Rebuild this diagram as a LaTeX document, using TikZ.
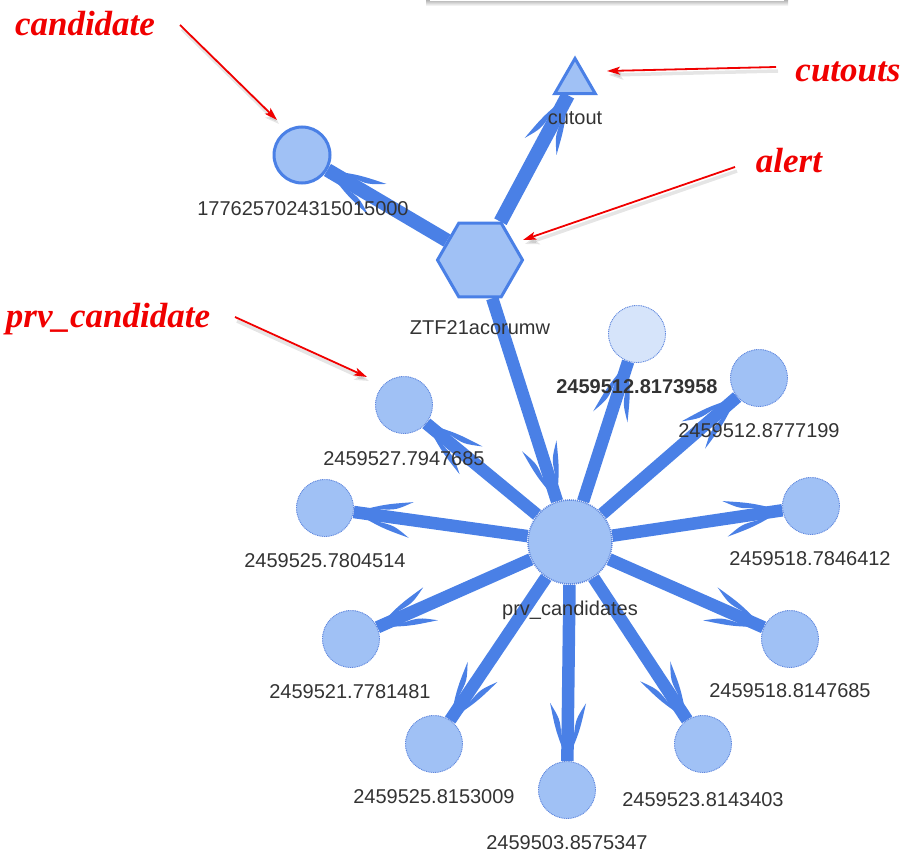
\documentclass[tikz,border=0pt]{standalone}
\usepackage{fontspec}
\setmainfont{Liberation Sans}
\newfontfamily\annfont{Liberation Serif}
\usetikzlibrary{shapes.geometric,arrows.meta,decorations.markings}
\definecolor{edgeblue}{RGB}{74,128,230}
\definecolor{nodefill}{RGB}{160,193,245}
\definecolor{palefill}{RGB}{214,228,250}
\definecolor{dotblue}{RGB}{96,136,222}
\definecolor{txtgray}{RGB}{51,51,51}
\definecolor{annred}{RGB}{240,0,0}
\pgfdeclarelayer{edgelayer}
\pgfsetlayers{edgelayer,main}
\tikzset{
  starnode/.style={circle, fill=nodefill, draw=dotblue, line width=0.9pt, dash pattern=on 1pt off 0.8pt, minimum size=57pt, inner sep=0pt},
  palenode/.style={starnode, fill=palefill},
  hubnode/.style={circle, fill=nodefill, draw=dotblue, line width=1.6pt, dash pattern=on 1pt off 1pt, minimum size=84pt, inner sep=0pt},
  solidnode/.style={fill=nodefill, draw=edgeblue, line width=3pt, inner sep=0pt},
  lab/.style={anchor=base, inner sep=0pt, text=txtgray, font=\fontsize{20}{24}\selectfont},
  vhead/.style={postaction={decorate, decoration={markings, mark=at position 1 with {
     \fill[edgeblue] (0pt,0pt) .. controls (-30pt,12pt) .. (-58pt,18pt)
       .. controls (-42pt,8pt) .. (-26pt,6.25pt)
       -- (-26pt,-6.25pt) .. controls (-42pt,-8pt) .. (-58pt,-18pt)
       .. controls (-30pt,-12pt) .. (0pt,0pt) -- cycle;}}}},
  conn/.style={draw=edgeblue, line width=12.5pt, vhead},
  thickconn/.style={conn, line width=14pt},
  ann/.style={anchor=base, inner sep=0pt, text=annred, font=\annfont\bfseries\itshape\fontsize{35}{40}\selectfont},
  redarrow/.style={draw=annred, line width=1.8pt, -{Stealth[length=13pt,width=8pt,inset=3pt]}},
  redshadow/.style={draw=black, opacity=0.1, line width=3.5pt, -{Stealth[length=14pt,width=10pt,inset=3pt]}},
}
\begin{document}
\begin{tikzpicture}[x=1pt,y=-1pt]
\useasboundingbox (0,0) rectangle (904,853);
% partial box at the top
\shade[top color=black!30, bottom color=white] (426,0) rectangle (788,6);
\fill[white] (430,-2) rectangle (784,1.2);

% upper graph nodes
\node[solidnode, regular polygon, regular polygon sides=6, minimum size=85pt] (alert) at (480,260) {};
\node[solidnode, circle, minimum size=56pt] (cand) at (302,155) {};
\node[solidnode, regular polygon, regular polygon sides=3, minimum size=47pt] (cut) at (575,82) {};
\node[hubnode] (hub) at (570,542) {};

% previous candidates
\node[palenode] (n1) at (637,334) {};
\node[starnode] (n2) at (759,378) {};
\node[starnode] (n3) at (404,405) {};
\node[starnode] (n4) at (325,508) {};
\node[starnode] (n5) at (811,506) {};
\node[starnode] (n6) at (351,639) {};
\node[starnode] (n7) at (790,639) {};
\node[starnode] (n8) at (434,744) {};
\node[starnode] (n9) at (567,790) {};
\node[starnode] (n10) at (703,744) {};

% edges
\begin{pgfonlayer}{edgelayer}
\draw[thickconn] (alert) -- (cand);
\draw[thickconn] (alert) -- (cut);
\draw[conn] (alert) -- (hub);
\foreach \n in {n1,n2,n3,n4,n5,n6,n7,n8,n9,n10}
  \draw[conn] (hub) -- (\n);
\end{pgfonlayer}

% labels
\node[lab] (lcand) at (303,215) {1776257024315015000};
\node[lab] (lalert) at (480,334) {ZTF21acorumw};
\node[lab] (lcut) at (575,125) {cutout};
\node[lab] (lhub) at (570,615) {prv\_candidates};
\node[lab, font=\bfseries\fontsize{20}{24}\selectfont] (l1) at (637,393) {2459512.8173958};
\node[lab] (l2) at (759,437) {2459512.8777199};
\node[lab] (l3) at (404,465) {2459527.7947685};
\node[lab] (l4) at (325,567) {2459525.7804514};
\node[lab] (l5) at (810,565) {2459518.7846412};
\node[lab] (l6) at (350,698) {2459521.7781481};
\node[lab] (l7) at (790,697) {2459518.8147685};
\node[lab] (l8) at (434,803) {2459525.8153009};
\node[lab] (l9) at (567,849) {2459503.8575347};
\node[lab] (l10) at (703,806) {2459523.8143403};

% annotations
\coordinate (a1s) at (180,25);  \coordinate (a1e) at (277,120);
\coordinate (a2s) at (776,67);  \coordinate (a2e) at (607,71);
\coordinate (a3s) at (735,167); \coordinate (a3e) at (523,240);
\coordinate (a4s) at (235,317); \coordinate (a4e) at (367,377);
\foreach \s/\e in {a1s/a1e,a2s/a2e,a3s/a3e,a4s/a4e}{
  \draw[redshadow] ([shift={(2,4)}]\s) -- ([shift={(2,4)}]\e);
  \draw[redarrow] (\s) -- (\e);
}
\node[ann] (t1) at (85,36) {candidate};
\node[ann] (t2) at (848,82) {cutouts};
\node[ann] (t3) at (789,173) {alert};
\node[ann] (t4) at (108,327) {prv\_candidate};
\end{tikzpicture}
\end{document}
